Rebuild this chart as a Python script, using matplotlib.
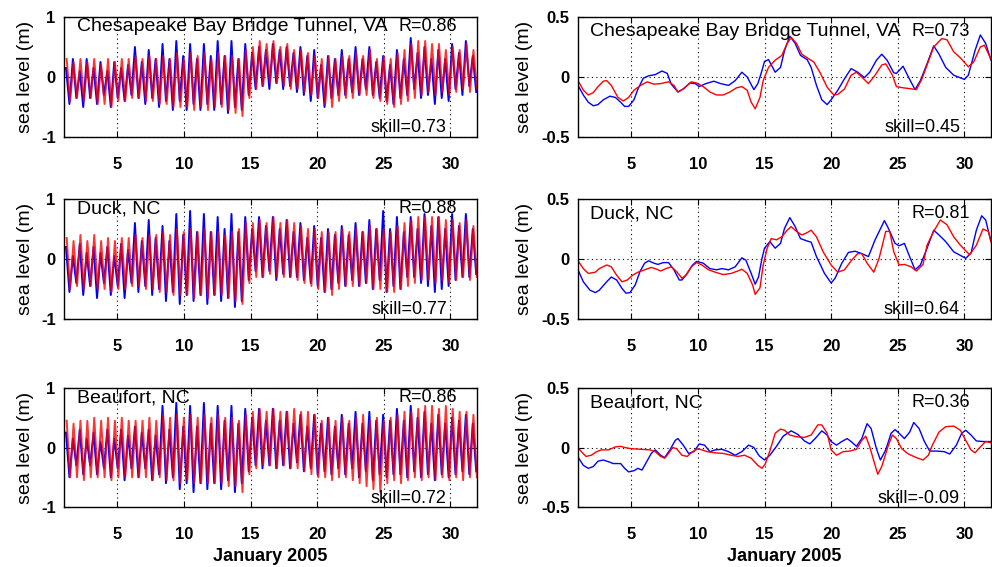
import numpy as np
import matplotlib
matplotlib.use("Agg")
import matplotlib.pyplot as plt

plt.rcParams['font.family'] = ['Liberation Sans', 'DejaVu Sans']

# ---------------- data ----------------
stations = ["Chesapeake Bay Bridge Tunnel, VA", "Duck, NC", "Beaufort, NC"]
left_R = ["R=0.86", "R=0.88", "R=0.86"]
left_skill = ["skill=0.73", "skill=0.77", "skill=0.72"]
right_R = ["R=0.73", "R=0.81", "R=0.36"]
right_skill = ["skill=0.45", "skill=0.64", "skill=-0.09"]

# tidal extrema (high / low per M2 cycle)
tide_period = 0.5175  # days
obs_t0 = 1.15
mod_t0 = 1.20

chs_obs_high = [0.15, 0.3, 0.1, 0.3, 0.15, 0.25, 0.1, 0.25, 0.15, 0.2,
                0.5, 0.25, 0.45, 0.3, 0.55, 0.3, 0.6, 0.35, 0.55, 0.3,
                0.55, 0.35, 0.6, 0.35, 0.6, 0.3, 0.55, 0.4, 0.5, 0.45,
                0.55, 0.45, 0.5, 0.4, 0.5, 0.35, 0.45, 0.2, 0.35, 0.3,
                0.45, 0.3, 0.5, 0.3, 0.5, 0.25, 0.35, 0.2, 0.45, 0.3,
                0.65, 0.4, 0.5, 0.3, 0.45, 0.3, 0.55, 0.4, 0.6, 0.35]
chs_obs_low = [-0.45, -0.35, -0.5, -0.35, -0.45, -0.3, -0.5, -0.35, -0.4, -0.3,
               -0.35, -0.45, -0.35, -0.5, -0.4, -0.55, -0.4, -0.55, -0.45, -0.55,
               -0.45, -0.55, -0.45, -0.6, -0.5, -0.55, -0.3, -0.2, -0.15, -0.2,
               -0.1, -0.2, -0.15, -0.25, -0.3, -0.4, -0.35, -0.5, -0.35, -0.3,
               -0.3, -0.25, -0.3, -0.2, -0.3, -0.35, -0.4, -0.45, -0.35, -0.3,
               -0.2, -0.35, -0.3, -0.45, -0.35, -0.4, -0.2, -0.3, -0.15, -0.25]
chs_mod_high = [0.3, 0.25, 0.3, 0.25, 0.3, 0.2, 0.3, 0.25, 0.3, 0.3,
                0.35, 0.3, 0.35, 0.3, 0.35, 0.3, 0.4, 0.3, 0.4, 0.35,
                0.4, 0.3, 0.4, 0.35, 0.35, 0.3, 0.45, 0.5, 0.6, 0.55,
                0.6, 0.5, 0.55, 0.45, 0.45, 0.4, 0.35, 0.3, 0.35, 0.3,
                0.35, 0.35, 0.4, 0.35, 0.45, 0.3, 0.35, 0.3, 0.4, 0.45,
                0.55, 0.6, 0.6, 0.55, 0.55, 0.45, 0.5, 0.45, 0.55, 0.45]
chs_mod_low = [-0.4, -0.35, -0.4, -0.35, -0.45, -0.45, -0.5, -0.4, -0.4, -0.35,
               -0.35, -0.4, -0.4, -0.45, -0.45, -0.5, -0.5, -0.5, -0.55, -0.5,
               -0.55, -0.5, -0.5, -0.55, -0.6, -0.65, -0.35, -0.2, -0.15, -0.1,
               -0.1, -0.15, -0.2, -0.2, -0.25, -0.3, -0.35, -0.45, -0.5, -0.4,
               -0.35, -0.35, -0.3, -0.3, -0.35, -0.4, -0.45, -0.5, -0.45, -0.4,
               -0.35, -0.3, -0.25, -0.3, -0.25, -0.3, -0.25, -0.2, -0.25, -0.2]

duk_obs_high = [0.2, 0.05, 0.25, 0.1, 0.2, 0.1, 0.2, 0.05, 0.25, 0.15,
                0.6, 0.3, 0.65, 0.35, 0.55, 0.3, 0.75, 0.4, 0.8, 0.45,
                0.75, 0.45, 0.7, 0.5, 0.75, 0.45, 0.7, 0.5, 0.7, 0.55,
                0.7, 0.5, 0.65, 0.45, 0.6, 0.35, 0.55, 0.35, 0.5, 0.4,
                0.55, 0.4, 0.6, 0.45, 0.65, 0.5, 0.8, 0.5, 0.7, 0.45,
                0.7, 0.5, 0.75, 0.55, 0.7, 0.5, 0.75, 0.55, 0.75, 0.5]
duk_obs_low = [-0.55, -0.4, -0.6, -0.45, -0.65, -0.4, -0.6, -0.45, -0.65, -0.4,
               -0.55, -0.45, -0.6, -0.5, -0.7, -0.55, -0.75, -0.6, -0.7, -0.6,
               -0.75, -0.6, -0.7, -0.65, -0.8, -0.7, -0.35, -0.2, -0.3, -0.2,
               -0.35, -0.25, -0.3, -0.3, -0.35, -0.4, -0.45, -0.55, -0.5, -0.4,
               -0.45, -0.35, -0.45, -0.4, -0.5, -0.35, -0.55, -0.45, -0.5, -0.3,
               -0.3, -0.4, -0.45, -0.55, -0.5, -0.45, -0.35, -0.3, -0.3, -0.25]
duk_mod_high = [0.35, 0.3, 0.4, 0.3, 0.4, 0.3, 0.35, 0.3, 0.35, 0.35,
                0.4, 0.35, 0.4, 0.4, 0.45, 0.4, 0.5, 0.45, 0.5, 0.45,
                0.5, 0.45, 0.45, 0.4, 0.45, 0.5, 0.6, 0.6, 0.65, 0.6,
                0.7, 0.6, 0.65, 0.6, 0.55, 0.5, 0.5, 0.45, 0.45, 0.45,
                0.5, 0.45, 0.5, 0.45, 0.55, 0.5, 0.5, 0.45, 0.55, 0.6,
                0.65, 0.7, 0.7, 0.7, 0.7, 0.65, 0.65, 0.6, 0.65, 0.55]
duk_mod_low = [-0.5, -0.45, -0.5, -0.45, -0.5, -0.5, -0.55, -0.5, -0.5, -0.45,
               -0.45, -0.5, -0.5, -0.55, -0.55, -0.6, -0.6, -0.6, -0.65, -0.6,
               -0.65, -0.6, -0.6, -0.65, -0.7, -0.75, -0.4, -0.3, -0.3, -0.25,
               -0.3, -0.3, -0.3, -0.35, -0.4, -0.45, -0.5, -0.55, -0.6, -0.5,
               -0.45, -0.45, -0.45, -0.4, -0.5, -0.5, -0.55, -0.55, -0.5, -0.45,
               -0.4, -0.35, -0.35, -0.4, -0.35, -0.4, -0.35, -0.3, -0.35, -0.3]

bft_obs_high = [0.25, 0.15, 0.3, 0.15, 0.25, 0.1, 0.3, 0.15, 0.3, 0.2,
                0.35, 0.25, 0.3, 0.2, 0.7, 0.3, 0.75, 0.35, 0.7, 0.35,
                0.75, 0.4, 0.7, 0.45, 0.7, 0.4, 0.65, 0.5, 0.65, 0.45,
                0.65, 0.45, 0.6, 0.4, 0.55, 0.35, 0.55, 0.4, 0.5, 0.35,
                0.55, 0.4, 0.6, 0.4, 0.6, 0.45, 0.55, 0.45, 0.65, 0.45,
                0.7, 0.5, 0.6, 0.4, 0.55, 0.4, 0.5, 0.45, 0.55, 0.4]
bft_obs_low = [-0.5, -0.3, -0.45, -0.3, -0.45, -0.35, -0.5, -0.35, -0.55, -0.35,
               -0.5, -0.35, -0.55, -0.45, -0.6, -0.5, -0.7, -0.6, -0.75, -0.6,
               -0.7, -0.6, -0.7, -0.55, -0.75, -0.6, -0.4, -0.3, -0.35, -0.3,
               -0.35, -0.3, -0.35, -0.25, -0.4, -0.35, -0.45, -0.4, -0.45, -0.35,
               -0.45, -0.35, -0.5, -0.4, -0.55, -0.45, -0.5, -0.45, -0.45, -0.5,
               -0.4, -0.5, -0.45, -0.55, -0.45, -0.5, -0.45, -0.4, -0.45, -0.4]
bft_mod_high = [0.45, 0.4, 0.45, 0.45, 0.5, 0.45, 0.5, 0.45, 0.5, 0.45,
                0.45, 0.45, 0.5, 0.45, 0.55, 0.5, 0.55, 0.5, 0.55, 0.5,
                0.55, 0.5, 0.55, 0.5, 0.5, 0.45, 0.55, 0.6, 0.65, 0.6,
                0.65, 0.6, 0.6, 0.65, 0.6, 0.6, 0.55, 0.45, 0.5, 0.45,
                0.5, 0.45, 0.5, 0.55, 0.45, 0.5, 0.45, 0.5, 0.55, 0.6,
                0.6, 0.65, 0.7, 0.7, 0.65, 0.7, 0.65, 0.6, 0.6, 0.55]
bft_mod_low = [-0.5, -0.5, -0.55, -0.5, -0.5, -0.5, -0.55, -0.5, -0.5, -0.5,
               -0.5, -0.5, -0.55, -0.5, -0.55, -0.55, -0.6, -0.55, -0.6, -0.6,
               -0.6, -0.6, -0.6, -0.65, -0.65, -0.75, -0.45, -0.35, -0.3, -0.3,
               -0.35, -0.3, -0.35, -0.35, -0.4, -0.45, -0.5, -0.5, -0.55, -0.5,
               -0.5, -0.55, -0.6, -0.65, -0.7, -0.75, -0.6, -0.55, -0.6, -0.55,
               -0.5, -0.55, -0.5, -0.55, -0.5, -0.55, -0.5, -0.55, -0.5, -0.5]

# subtidal (filtered) series: (day, value) pairs
chs_obs_sub_day = [1.0, 1.4, 1.77, 2.15, 2.5, 2.9, 3.4, 3.8, 4.2, 4.5, 4.8, 5.2, 5.5, 5.9, 6.3,
                   6.8, 7.3, 7.7, 8.0, 8.5, 8.9, 9.4, 9.8, 10.1, 10.6, 11.2, 11.7, 12.3, 12.8,
                   13.3, 13.7, 14.2, 14.5, 14.8, 15.0, 15.3, 15.8, 16.2, 16.5, 16.9, 17.3, 17.7,
                   18.2, 18.5, 18.9, 19.3, 19.7, 20.0, 20.5, 21.0, 21.5, 22.0, 22.5, 22.9, 23.4,
                   23.8, 24.2, 24.7, 24.9, 25.4, 25.8, 26.3, 26.7, 27.2, 27.7, 28.1, 28.6, 29.2,
                   30.0, 30.3, 30.8, 31.2, 31.6, 32.0]
chs_obs_sub = [-0.07, -0.15, -0.21, -0.24, -0.23, -0.19, -0.16, -0.17, -0.21, -0.245, -0.245,
               -0.19, -0.1, -0.01, 0.01, 0.02, 0.05, 0.03, -0.06, -0.125, -0.1, -0.05, -0.055,
               -0.08, -0.055, -0.035, -0.055, -0.07, -0.03, 0.04, 0.0, -0.105, -0.055, 0.05,
               0.13, 0.145, 0.04, 0.08, 0.22, 0.34, 0.28, 0.18, 0.145, 0.08, -0.07, -0.19,
               -0.23, -0.19, -0.11, -0.015, 0.07, 0.04, -0.005, 0.04, 0.14, 0.19, 0.14, 0.035,
               0.03, 0.09, 0.0, -0.105, -0.03, 0.11, 0.26, 0.19, 0.08, 0.015, -0.02, 0.015,
               0.22, 0.35, 0.28, 0.14]
chs_mod_sub_day = [1.0, 1.4, 1.77, 2.15, 2.5, 2.9, 3.15, 3.5, 4.0, 4.4, 4.8, 5.2, 5.7, 6.2, 6.7,
                   7.2, 7.8, 8.2, 8.5, 8.9, 9.5, 9.9, 10.4, 10.9, 11.4, 11.9, 12.4, 12.9, 13.3,
                   13.7, 14.0, 14.3, 14.66, 14.9, 15.3, 15.8, 16.3, 16.7, 17.0, 17.4, 17.8, 18.2,
                   18.7, 19.2, 19.7, 20.2, 20.5, 21.0, 21.5, 21.9, 22.3, 22.8, 23.3, 23.8, 24.1,
                   24.6, 24.9, 25.4, 26.1, 26.4, 26.8, 27.2, 27.7, 28.3, 28.7, 29.2, 29.7, 30.3,
                   30.7, 31.2, 31.5, 32.0]
chs_mod_sub = [-0.03, -0.11, -0.15, -0.13, -0.08, -0.035, -0.03, -0.07, -0.17, -0.2, -0.17,
               -0.11, -0.07, -0.04, -0.06, -0.055, -0.04, -0.07, -0.125, -0.1, -0.04, -0.05,
               -0.08, -0.125, -0.15, -0.15, -0.125, -0.09, -0.08, -0.11, -0.21, -0.265, -0.17,
               -0.03, 0.08, 0.14, 0.18, 0.28, 0.33, 0.28, 0.19, 0.16, 0.125, 0.03, -0.085,
               -0.15, -0.145, -0.1, 0.015, 0.04, 0.0, -0.055, 0.015, 0.1, 0.11, 0.015, -0.08,
               -0.09, -0.1, -0.105, -0.02, 0.1, 0.25, 0.32, 0.31, 0.21, 0.16, 0.085, 0.125,
               0.25, 0.265, 0.15]

duk_obs_sub_day = [1.0, 1.4, 1.9, 2.3, 2.6, 3.15, 3.5, 3.9, 4.3, 4.6, 4.9, 5.3, 5.65, 6.0, 6.3,
                   6.7, 7.0, 7.4, 7.8, 8.2, 8.6, 8.8, 9.2, 9.6, 9.9, 10.4, 10.9, 11.4, 11.8,
                   12.3, 12.8, 13.3, 13.6, 14.0, 14.3, 14.55, 14.8, 15.0, 15.4, 15.8, 16.2, 16.5,
                   16.9, 17.3, 17.7, 18.2, 18.5, 18.9, 19.5, 20.0, 20.3, 20.8, 21.3, 21.8, 22.3,
                   22.8, 23.3, 24.0, 24.3, 24.8, 25.1, 25.5, 25.8, 26.3, 26.7, 27.2, 27.7, 28.1,
                   28.6, 29.2, 29.7, 30.1, 30.5, 30.9, 31.3, 31.6, 32.0]
duk_obs_sub = [-0.09, -0.19, -0.26, -0.28, -0.26, -0.19, -0.15, -0.175, -0.245, -0.285, -0.28,
               -0.215, -0.105, -0.035, -0.015, -0.035, -0.045, -0.03, -0.03, -0.09, -0.175,
               -0.175, -0.12, -0.05, -0.02, -0.035, -0.08, -0.09, -0.08, -0.09, -0.065, 0.01,
               -0.01, -0.12, -0.21, -0.15, 0.0, 0.09, 0.145, 0.09, 0.13, 0.255, 0.345, 0.27,
               0.17, 0.15, 0.14, 0.02, -0.12, -0.2, -0.16, -0.035, 0.055, 0.065, 0.045, 0.02,
               0.16, 0.32, 0.255, 0.13, 0.11, 0.13, 0.045, -0.09, -0.05, 0.09, 0.24, 0.2,
               0.145, 0.06, 0.03, 0.005, 0.05, 0.24, 0.36, 0.325, 0.145]
duk_mod_sub_day = [1.0, 1.4, 1.77, 2.3, 2.6, 3.15, 3.5, 3.9, 4.3, 4.7, 5.1, 5.5, 6.0, 6.5, 6.9,
                   7.2, 7.6, 8.0, 8.4, 8.8, 9.1, 9.5, 9.9, 10.3, 10.8, 11.3, 11.9, 12.5, 13.0,
                   13.3, 13.7, 14.1, 14.3, 14.66, 14.9, 15.2, 15.5, 15.9, 16.3, 16.7, 17.0, 17.4,
                   17.8, 18.2, 18.5, 18.9, 19.4, 20.0, 20.5, 21.0, 21.5, 22.0, 22.3, 22.7, 23.2,
                   23.6, 24.1, 24.4, 24.7, 25.1, 25.5, 26.0, 26.4, 26.9, 27.2, 27.7, 28.2, 28.7,
                   29.2, 29.7, 30.4, 30.9, 31.4, 31.8, 32.0]
duk_mod_sub = [-0.015, -0.08, -0.12, -0.11, -0.08, -0.05, -0.065, -0.135, -0.19, -0.175, -0.135,
               -0.11, -0.09, -0.07, -0.085, -0.1, -0.08, -0.065, -0.105, -0.16, -0.135, -0.065,
               -0.03, -0.05, -0.09, -0.11, -0.13, -0.12, -0.1, -0.085, -0.12, -0.215, -0.295,
               -0.24, -0.05, 0.09, 0.17, 0.16, 0.185, 0.24, 0.27, 0.23, 0.2, 0.22, 0.24, 0.185,
               0.06, -0.05, -0.11, -0.09, -0.015, 0.045, 0.045, -0.035, -0.11, 0.005, 0.23,
               0.23, 0.06, -0.05, -0.045, -0.065, -0.1, -0.045, 0.115, 0.23, 0.325, 0.285,
               0.185, 0.115, 0.035, 0.115, 0.25, 0.23, 0.145]

bft_obs_sub_day = [1.0, 1.4, 1.77, 2.15, 2.5, 2.9, 3.3, 3.65, 4.2, 4.5, 4.8, 5.2, 5.5, 5.8, 6.15,
                   6.5, 6.8, 7.2, 7.5, 7.9, 8.3, 8.5, 8.9, 9.3, 9.7, 10.1, 10.5, 10.9, 11.3,
                   11.8, 12.3, 12.8, 13.3, 13.8, 14.2, 14.6, 15.0, 15.4, 15.9, 16.4, 17.0, 17.5,
                   18.0, 18.4, 18.8, 19.3, 19.7, 20.0, 20.4, 20.8, 21.2, 21.5, 21.9, 22.3, 22.7,
                   23.0, 23.4, 23.7, 24.1, 24.5, 24.8, 25.1, 25.5, 25.9, 26.2, 26.6, 27.0, 27.4,
                   27.9, 28.5, 28.9, 29.4, 29.8, 30.1, 30.5, 30.9, 31.4, 32.0]
bft_obs_sub = [-0.08, -0.15, -0.175, -0.16, -0.115, -0.105, -0.12, -0.135, -0.135, -0.175,
               -0.205, -0.195, -0.175, -0.19, -0.12, -0.05, -0.02, -0.065, -0.085, -0.02, 0.06,
               0.075, 0.02, -0.05, -0.035, 0.03, 0.02, -0.035, -0.02, -0.015, -0.035, -0.065,
               -0.035, 0.02, 0.0, -0.07, -0.105, -0.065, 0.01, 0.095, 0.14, 0.11, 0.055, 0.03,
               0.075, 0.14, 0.105, 0.05, 0.02, 0.05, 0.075, 0.05, 0.01, 0.075, 0.2, 0.16,
               -0.01, -0.105, -0.02, 0.12, 0.15, 0.12, 0.075, 0.13, 0.21, 0.16, 0.05, -0.03,
               -0.03, -0.035, -0.055, 0.02, 0.12, 0.145, 0.105, 0.055, 0.05, 0.05]
bft_mod_sub_day = [1.0, 1.25, 1.6, 2.0, 2.4, 2.75, 3.3, 3.8, 4.2, 4.5, 5.0, 5.7, 6.4, 6.8, 7.2,
                   7.5, 7.8, 8.1, 8.4, 8.8, 9.2, 9.6, 10.0, 10.3, 10.7, 11.3, 11.9, 12.5, 13.0,
                   13.5, 14.0, 14.5, 14.8, 15.05, 15.4, 15.8, 16.2, 16.5, 16.9, 17.4, 18.0, 18.5,
                   19.0, 19.3, 19.7, 20.0, 20.4, 20.9, 21.4, 21.9, 22.3, 22.6, 22.9, 23.3, 23.5,
                   23.8, 24.3, 24.6, 24.9, 25.3, 25.8, 26.4, 26.9, 27.3, 27.6, 28.1, 28.6, 29.2,
                   29.7, 30.1, 30.5, 30.8, 31.2, 31.6, 32.0]
bft_mod_sub = [0.0, -0.035, -0.075, -0.065, -0.035, -0.02, -0.02, 0.005, 0.01, 0.0, -0.01,
               -0.015, -0.02, -0.035, -0.075, -0.09, -0.05, 0.0, -0.01, -0.065, -0.075, -0.035,
               -0.01, -0.02, -0.035, -0.045, -0.05, -0.065, -0.075, -0.065, -0.09, -0.15,
               -0.175, -0.14, -0.03, 0.12, 0.155, 0.145, 0.105, 0.09, 0.085, 0.105, 0.19, 0.19,
               0.12, -0.02, -0.065, -0.035, -0.03, -0.015, 0.06, 0.095, 0.005, -0.15, -0.225,
               -0.16, 0.02, 0.105, 0.075, -0.01, -0.055, -0.085, -0.105, -0.065, 0.02, 0.13,
               0.175, 0.18, 0.145, 0.06, -0.02, -0.045, 0.005, 0.05, 0.04]

left_data = [
    (chs_obs_high, chs_obs_low, chs_mod_high, chs_mod_low),
    (duk_obs_high, duk_obs_low, duk_mod_high, duk_mod_low),
    (bft_obs_high, bft_obs_low, bft_mod_high, bft_mod_low),
]
right_data = [
    (chs_obs_sub_day, chs_obs_sub, chs_mod_sub_day, chs_mod_sub),
    (duk_obs_sub_day, duk_obs_sub, duk_mod_sub_day, duk_mod_sub),
    (bft_obs_sub_day, bft_obs_sub, bft_mod_sub_day, bft_mod_sub),
]

x_ticks = [5, 10, 15, 20, 25, 30]
left_yticks = [-1, 0, 1]
left_yticklabels = ["-1", "0", "1"]
right_yticks = [-0.5, 0, 0.5]
right_yticklabels = ["-0.5", "0", "0.5"]


def tide_series(t0, highs, lows):
    n = len(highs)
    th = t0 + tide_period * np.arange(n)
    tl = th + tide_period / 2
    t = np.empty(2 * n)
    v = np.empty(2 * n)
    t[0::2] = th
    t[1::2] = tl
    v[0::2] = highs
    v[1::2] = lows
    return t, v


# ---------------- figure ----------------
fig = plt.figure(figsize=(9.92, 5.67), dpi=100)
W, H = 992.0, 567.0
rows_px = [(17, 137), (199, 319), (388, 507)]
cols_px = [64, 578]
ax_w = 413

FS_TITLE = 14
FS_NOTE = 13
tick_font = dict(fontsize=12, fontweight='bold')


def style_axes(ax, ylim, yticks, yticklabels):
    ax.set_xlim(1, 32)
    ax.set_ylim(*ylim)
    ax.set_xticks(x_ticks)
    ax.set_yticks(yticks)
    ax.set_xticklabels([str(v) for v in x_ticks], **tick_font)
    ax.set_yticklabels(yticklabels, **tick_font)
    ax.tick_params(direction='in', length=4, width=0.8, top=True, right=True)
    ax.tick_params(axis='x', pad=14.5)
    ax.tick_params(axis='y', pad=6)
    ax.grid(True, color='black', linestyle=(0, (1, 3)), linewidth=0.8)
    for s in ax.spines.values():
        s.set_linewidth(1.0)


for r, (top, bot) in enumerate(rows_px):
    # left: full tidal signal
    axl = fig.add_axes([cols_px[0] / W, 1 - bot / H, ax_w / W, (bot - top) / H])
    oh, ol, mh, ml = left_data[r]
    t, v = tide_series(obs_t0, oh, ol)
    axl.plot(t, v, color=(0, 0, 1), lw=1.4)
    t, v = tide_series(mod_t0, mh, ml)
    axl.plot(t, v, color=(1, 0, 0), lw=1.4, alpha=0.8)
    style_axes(axl, (-1, 1), left_yticks, left_yticklabels)
    axl.set_ylabel("sea level (m)", fontsize=FS_TITLE)
    axl.yaxis.set_label_coords(-0.073, 0.5)
    axl.text(0.031, 0.92, stations[r], transform=axl.transAxes, ha='left', va='center', fontsize=FS_TITLE)
    axl.text(0.952, 0.92, left_R[r], transform=axl.transAxes, ha='right', va='center', fontsize=FS_NOTE)
    axl.text(0.927, 0.075, left_skill[r], transform=axl.transAxes, ha='right', va='center', fontsize=FS_NOTE)

    # right: subtidal
    axr = fig.add_axes([cols_px[1] / W, 1 - bot / H, ax_w / W, (bot - top) / H])
    od, ov, md, mv = right_data[r]
    axr.plot(od, ov, color=(0, 0, 1), lw=1.0)
    axr.plot(md, mv, color=(1, 0, 0), lw=1.0)
    style_axes(axr, (-0.5, 0.5), right_yticks, right_yticklabels)
    axr.set_ylabel("sea level (m)", fontsize=FS_TITLE)
    axr.yaxis.set_label_coords(-0.109, 0.5)
    axr.text(0.029, 0.875, stations[r], transform=axr.transAxes, ha='left', va='center', fontsize=FS_TITLE)
    axr.text(0.949, 0.875, right_R[r], transform=axr.transAxes, ha='right', va='center', fontsize=FS_NOTE)
    axr.text(0.925, 0.075, right_skill[r], transform=axr.transAxes, ha='right', va='center', fontsize=FS_NOTE)

    if r == 2:
        axl.set_xlabel("January 2005", fontsize=13, fontweight='bold', labelpad=4)
        axr.set_xlabel("January 2005", fontsize=13, fontweight='bold', labelpad=4)

fig.savefig("out.png", dpi=100)
